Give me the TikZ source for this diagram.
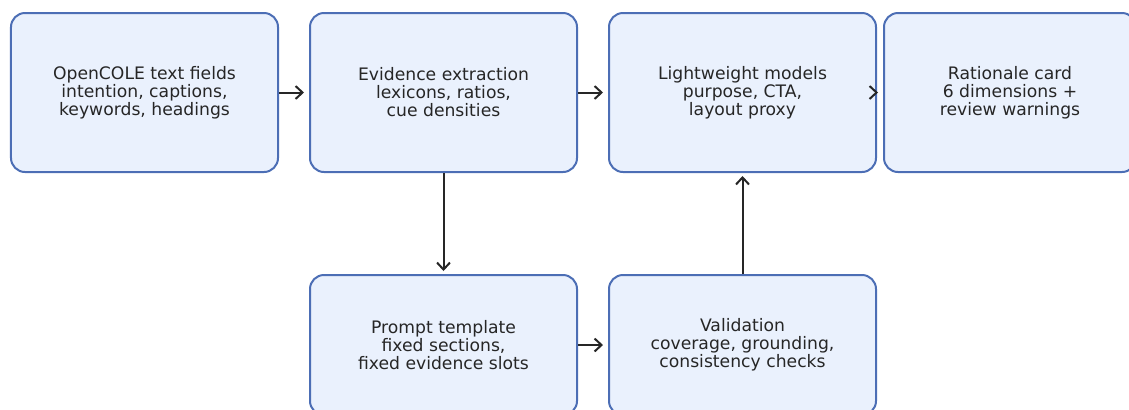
\documentclass[tikz,border=0pt]{standalone}
\usepackage{fontspec}
\setmainfont{DejaVu Sans}
\usepackage{xcolor}
\usepackage{tikz}
\usetikzlibrary{arrows.meta,positioning}
\definecolor{ink}{HTML}{262626}
\definecolor{edgeB}{HTML}{4C6EB5}
\definecolor{paleB}{HTML}{EAF1FD}
\tikzset{
  box/.style   ={draw=edgeB, fill=paleB, rounded corners=7pt, align=center,
                 inner sep=2pt, line width=1pt, text=ink,
                 font=\fontsize{8.6}{9}\selectfont,
                 minimum width=133.5pt, minimum height=79.5pt},
  lowbox/.style={box, minimum height=70pt},
  flow/.style  ={-{Straight Barb[length=3.5pt,width=6.5pt]}, line width=1pt,
                 draw=ink, shorten >=2.5pt},
  flowv/.style ={flow, shorten >=1.5pt},
}

\begin{document}
\begin{tikzpicture}[node distance=50.5pt and 15pt]
  % page frame first (crops the right and bottom boxes as in the figure)
  \useasboundingbox (-72.25pt,46.25pt) rectangle ++(564.5pt,-204.5pt);
  % --- top row ---
  \node[box](src) at (0,0){OpenCOLE text fields\\intention, captions,\\keywords, headings};
  \node[box,right=of src](evid){Evidence extraction\\lexicons, ratios,\\cue densities};
  \node[box,right=of evid](light){Lightweight models\\purpose, CTA,\\layout proxy};
  \node[box,right=3pt of light,minimum width=126pt](card){Rationale card\\6 dimensions +\\review warnings};
  % --- bottom row ---
  \node[lowbox,below=of evid](prompt){Prompt template\\fixed sections,\\fixed evidence slots};
  \node[lowbox,below=of light](valid){Validation\\coverage, grounding,\\consistency checks};
  \foreach \a/\b in {src/evid,evid/light,light/card,prompt/valid}
     \draw[flow](\a)--(\b);
  \draw[flowv](evid)--(prompt);
  \draw[flowv](valid)--(light);
\end{tikzpicture}
\end{document}
